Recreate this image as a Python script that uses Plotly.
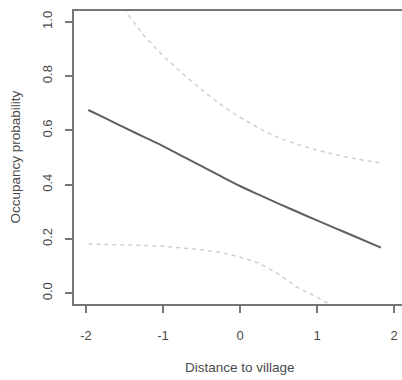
import plotly.graph_objects as go

# Data
distance = [-1.97, -1.75, -1.5, -1.25, -1.0, -0.75, -0.5, -0.25, 0.0, 0.25, 0.5, 0.75, 1.0, 1.25, 1.5, 1.83]
fit = [0.675, 0.645, 0.610, 0.576, 0.542, 0.505, 0.468, 0.431, 0.395, 0.362, 0.330, 0.299, 0.268, 0.238, 0.208, 0.168]
upper = [1.28, 1.17, 1.045, 0.95, 0.875, 0.81, 0.75, 0.695, 0.648, 0.607, 0.573, 0.548, 0.527, 0.51, 0.495, 0.480]
lower = [0.181, 0.180, 0.178, 0.176, 0.173, 0.167, 0.160, 0.150, 0.133, 0.110, 0.070, 0.020, -0.015, -0.055, -0.11, -0.18]

x_ticks = [-2, -1, 0, 1, 2]
y_ticks = [0.0, 0.2, 0.4, 0.6, 0.8, 1.0]
y_ticklabels = ["0.0", "0.2", "0.4", "0.6", "0.8", "1.0"]

font_family = "Liberation Sans, Arial, sans-serif"
text_color = "#4a4a4a"
axis_color = "#777777"

fig = go.Figure()
fig.add_trace(go.Scatter(x=distance, y=upper, mode="lines",
                         line=dict(color="#cfcfcf", width=1.5, dash="4px,4px"),
                         showlegend=False, hoverinfo="skip"))
fig.add_trace(go.Scatter(x=distance, y=lower, mode="lines",
                         line=dict(color="#cfcfcf", width=1.5, dash="4px,4px"),
                         showlegend=False, hoverinfo="skip"))
fig.add_trace(go.Scatter(x=distance, y=fit, mode="lines", line_shape="spline",
                         line=dict(color="#606060", width=2),
                         showlegend=False, hoverinfo="skip"))

fig.update_layout(
    width=402, height=380,
    margin=dict(l=74, r=0, t=11, b=76),
    paper_bgcolor="white", plot_bgcolor="white",
    font=dict(family=font_family, size=13, color=text_color),
    xaxis=dict(range=[-2.156, 2.104], tickvals=x_ticks, ticktext=[str(v) for v in x_ticks],
               showgrid=False, zeroline=False, showline=True, linecolor=axis_color, linewidth=1.5,
               mirror=True, ticks="outside", ticklen=7, tickcolor=axis_color, tickwidth=1.5,
               ticklabelstandoff=12),
    yaxis=dict(range=[-0.04, 1.04], tickvals=y_ticks, ticktext=y_ticklabels,
               showgrid=False, zeroline=False, showline=True, linecolor=axis_color, linewidth=1.5,
               mirror=False, ticks="outside", ticklen=7, tickcolor=axis_color, tickwidth=1.5,
               tickangle=-90, ticklabelstandoff=8),
    annotations=[
        dict(text="Distance to village", xref="x", x=0, yref="paper", y=0, yshift=-63,
             xanchor="center", yanchor="middle", showarrow=False,
             font=dict(size=13.5, color=text_color, family=font_family)),
        dict(text="Occupancy probability", xref="paper", x=0, xshift=-59, yref="paper", y=0.5,
             xanchor="center", yanchor="middle", textangle=-90, showarrow=False,
             font=dict(size=13.5, color=text_color, family=font_family)),
    ],
)

fig.write_html("out.html")
